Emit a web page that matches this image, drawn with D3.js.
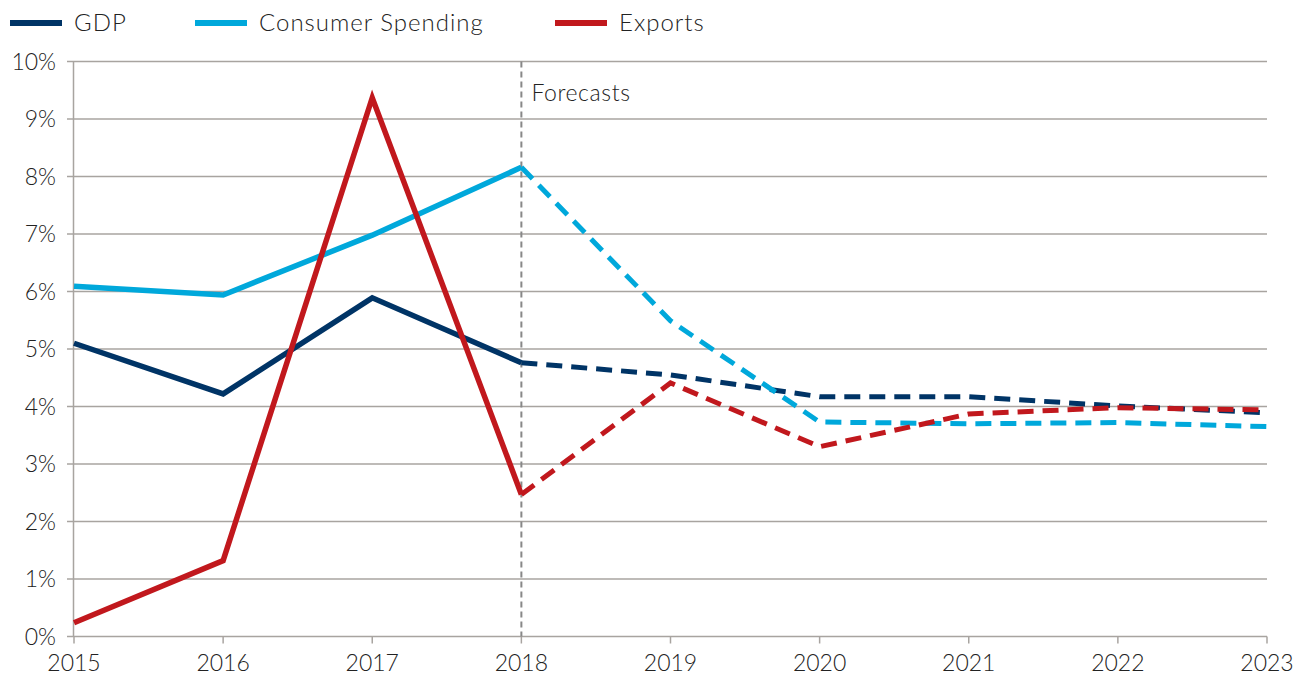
<!DOCTYPE html>
<html>
<head>
<meta charset="utf-8">
<script src="https://cdn.jsdelivr.net/npm/d3@7"></script>
<style>
body { margin: 0; background: #fff; }
svg text { font-family: Lato, "Open Sans", sans-serif; font-weight: 300; fill: #222; }
</style>
</head>
<body>
<svg id="chart" width="1296" height="675"></svg>
<script>
// chart data
var years = [2015, 2016, 2017, 2018, 2019, 2020, 2021, 2022, 2023];
var gdp = [5.10, 4.22, 5.89, 4.76, 4.55, 4.17, 4.17, 4.01, 3.89];
var consumer = [6.09, 5.94, 6.98, 8.16, 5.49, 3.73, 3.70, 3.72, 3.65];
var exportsGrowth = [0.24, 1.32, 9.37, 2.47, 4.41, 3.30, 3.87, 3.98, 3.94];
var yTicks = [0, 1, 2, 3, 4, 5, 6, 7, 8, 9, 10];
var forecastYear = 2018;

var series = [
  {name: 'GDP', values: gdp, color: '#003466'},
  {name: 'Consumer Spending', values: consumer, color: '#00a8db'},
  {name: 'Exports', values: exportsGrowth, color: '#c1181d'}
];

var svg = d3.select('#chart');
var x = d3.scaleLinear().domain([2015, 2023]).range([74, 1267]);
var y = d3.scaleLinear().domain([0, 10]).range([636.5, 61.5]);
var gridColor = '#a8a4a0';

// gridlines
svg.append('g').selectAll('line').data(yTicks).enter().append('line')
  .attr('x1', 67).attr('x2', 1267)
  .attr('y1', function(d) { return y(d); }).attr('y2', function(d) { return y(d); })
  .style('stroke', gridColor).style('stroke-width', 1.5);

// y axis line
svg.append('line').attr('x1', 73.5).attr('x2', 73.5).attr('y1', y(10)).attr('y2', y(0))
  .style('stroke', gridColor).style('stroke-width', 1.5);

// x ticks
svg.append('g').selectAll('line').data(years).enter().append('line')
  .attr('x1', function(d) { return x(d); }).attr('x2', function(d) { return x(d); })
  .attr('y1', y(0)).attr('y2', y(0) + 7)
  .style('stroke', gridColor).style('stroke-width', 1.5);

svg.append('g').selectAll('text').data(yTicks).enter().append('text')
  .attr('x', 56).attr('y', function(d) { return y(d) + 8; })
  .attr('text-anchor', 'end').style('font-size', '23px')
  .text(function(d) { return d + '%'; });

svg.append('g').selectAll('text').data(years).enter().append('text')
  .attr('x', function(d) { return x(d); }).attr('y', 671)
  .attr('text-anchor', 'middle').style('font-size', '23px')
  .text(function(d) { return d; });

// forecast marker
svg.append('line').attr('x1', x(forecastYear)).attr('x2', x(forecastYear))
  .attr('y1', y(10)).attr('y2', y(0))
  .style('stroke', '#888').style('stroke-width', 2).style('stroke-dasharray', '6,4');
svg.append('text').attr('x', x(forecastYear) + 10).attr('y', 101)
  .style('font-size', '23px').style('letter-spacing', '0.6px').text('Forecasts');

var line = d3.line()
  .x(function(d) { return x(d.year); })
  .y(function(d) { return y(d.v); });

var fIdx = years.indexOf(forecastYear);
series.forEach(function(s) {
  var pts = years.map(function(yr, i) { return {year: yr, v: s.values[i]}; });
  svg.append('path').datum(pts.slice(fIdx))
    .attr('d', line).style('fill', 'none').style('stroke', s.color)
    .style('stroke-width', 5).style('stroke-dasharray', '16,9');
  svg.append('path').datum(pts.slice(0, fIdx + 1))
    .attr('d', line).style('fill', 'none').style('stroke', s.color)
    .style('stroke-width', 5.5).style('stroke-linejoin', 'miter');
});

// legend
var legendX = [10, 195, 555];
var legend = svg.append('g').selectAll('g').data(series).enter().append('g')
  .attr('transform', function(d, i) { return 'translate(' + legendX[i] + ',23)'; });
legend.append('line').attr('x1', 0).attr('x2', 52).attr('y1', 0).attr('y2', 0)
  .style('stroke', function(d) { return d.color; }).style('stroke-width', 6);
legend.append('text').attr('x', 64).attr('y', 8).style('font-size', '24px')
  .style('letter-spacing', '1px')
  .text(function(d) { return d.name; });
</script>
</body>
</html>
